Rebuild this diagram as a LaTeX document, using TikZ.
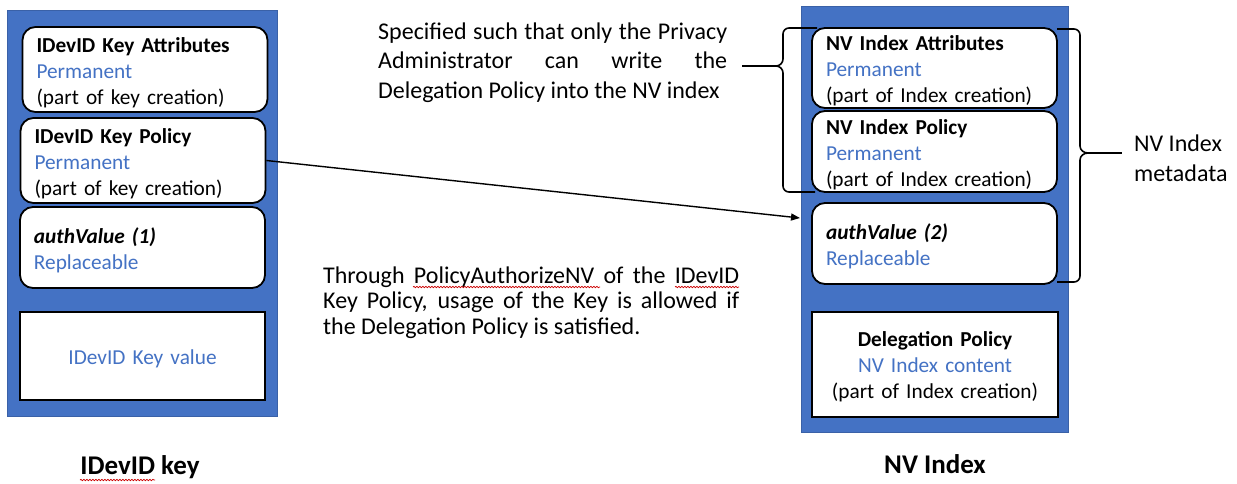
\documentclass[tikz,border=0pt]{standalone}
\usepackage{fontspec}
\setmainfont{Carlito}
\usetikzlibrary{arrows.meta,decorations.pathmorphing}
\definecolor{panelblue}{HTML}{4472C4}
\definecolor{txtblue}{HTML}{4472C4}
\newcommand\fieldfont{\fontsize{21.3}{26}\selectfont}
\newcommand\notefont{\fontsize{24}{29.5}\selectfont}
\newcommand\titlefont{\fontsize{27}{32}\selectfont\bfseries}
\newcommand\blue[1]{\textcolor{txtblue}{#1}}

\begin{document}
\begin{tikzpicture}[x=1pt,y=-1pt,
  panel/.style={fill=panelblue, draw=panelblue!85!black, line width=0.6pt, inner sep=0pt},
  field/.style={draw=black, line width=1.8pt, fill=white, rounded corners=13pt,
    inner xsep=14pt, inner ysep=0pt, align=left, text width=217pt, font=\fieldfont,
    execute at begin node={\rule{0pt}{21pt}}},
  valuebox/.style={draw=black, line width=1.8pt, fill=white, inner sep=0pt,
    align=center, text width=245pt, font=\fieldfont,
    execute at begin node={\rule{0pt}{20pt}}},
  brace/.style={draw=black, line width=1.6pt, line join=round},
  link/.style={draw=black, line width=1.4pt, -{Triangle[length=9pt,width=7pt]}},
  squiggle/.style={draw=red!80!black, line width=0.7pt,
    decorate, decoration={snake, segment length=3pt, amplitude=0.7pt}},
  title/.style={font=\titlefont, inner sep=0pt},
  note/.style={font=\notefont, inner sep=0pt, align=left}]

\useasboundingbox (0,0) rectangle (1237,483);

% containers
\node[panel, minimum width=270pt, minimum height=406pt] (keypanel) at (142,213) {};
\node[panel, minimum width=267pt, minimum height=426pt] (nvpanel) at (934.5,219) {};

% braces (drawn under the fields so their arms tuck behind the boxes)
\coordinate (ltip) at (776,66);
\coordinate (lend) at (742,66);
\path[brace] (817,28) -- (789,28) to[out=180,in=90] (783,34) -- (783,59)
  to[out=-90,in=0] (ltip) to[out=0,in=90] (783,73) -- (783,186)
  to[out=-90,in=180] (789,192) -- (815,192);
\draw[brace] (lend) -- (ltip);

\coordinate (rtip) at (1088,153);
\coordinate (rend) at (1122,153);
\path[brace] (1057,29) -- (1074,29) to[out=0,in=90] (1080,35) -- (1080,146)
  to[out=-90,in=180] (rtip) to[out=180,in=90] (1080,160) -- (1080,276)
  to[out=-90,in=0] (1074,282) -- (1057,282);
\draw[brace] (rtip) -- (rend);

% IDevID key fields
\node[field, minimum height=85pt] (kattr) at (145,69.5)
  {\textbf{IDevID Key Attributes}\\\blue{Permanent}\\(part of key creation)};
\node[field, minimum height=85pt] (kpol) at (143,160.5)
  {\textbf{IDevID Key Policy}\\\blue{Permanent}\\(part of key creation)};
\node[field, minimum height=81pt] (kauth) at (142.5,247.5)
  {\textbf{\textit{authValue (1)}}\\\blue{Replaceable}};
\node[valuebox, minimum height=88pt] (kval) at (142.5,356)
  {\blue{IDevID Key value}};

% NV index fields
\node[field, minimum height=80pt] (nattr) at (934.5,68)
  {\textbf{NV Index Attributes}\\\blue{Permanent}\\(part of Index creation)};
\node[field, minimum height=81pt] (npol) at (934.5,151.5)
  {\textbf{NV Index Policy}\\\blue{Permanent}\\(part of Index creation)};
\node[field, minimum height=81pt] (nauth) at (934.5,243.5)
  {\textbf{\textit{authValue (2)}}\\\blue{Replaceable}};
\node[valuebox, text width=246pt, minimum height=105pt] (ndel) at (935,364.5)
  {\textbf{Delegation Policy}\\\blue{NV Index content}\\(part of Index creation)};

% captions
\node[title] (keytitle) at (140,467) {IDevID key};
\node[title] (nvtitle) at (935,464) {NV Index};

% notes
\node[note, anchor=west] (spec) at (378,62.5)
  {\makebox[349pt][s]{Specified such that only the Privacy}\\
   \makebox[349pt][s]{Administrator can write the}\\
   Delegation Policy into the NV index};
\node[note, anchor=west, font=\fontsize{24}{25.5}\selectfont] (through) at (323,302.5)
  {\makebox[416pt][s]{Through PolicyAuthorizeNV of the IDevID}\\
   \makebox[416pt][s]{Key Policy, usage of the Key is allowed if}\\
   the Delegation Policy is satisfied.};
\node[note, anchor=west, font=\fontsize{24}{30}\selectfont] (meta) at (1134,158)
  {NV Index\\metadata};

% policy link
\coordinate (linkend) at (800,218);
\draw[link] (kpol.east) -- (linkend);

% spelling marks under the unknown words
\draw[squiggle] (413,287) -- (600,287);
\draw[squiggle] (675,287) -- (739,287);
\draw[squiggle] (80,480) -- (155,480);
\end{tikzpicture}
\end{document}
